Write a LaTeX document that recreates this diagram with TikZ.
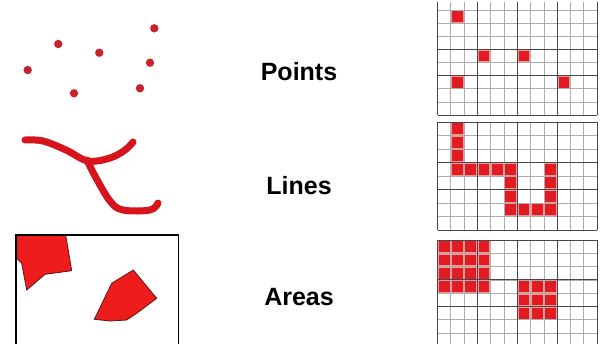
\documentclass[tikz,border=0pt]{standalone}
\usepackage{fontspec}
\setmainfont{Liberation Sans}
\definecolor{dotred}{HTML}{C8232C}
\definecolor{linered}{HTML}{D7141C}
\definecolor{areared}{HTML}{EE1C1C}
\definecolor{arealine}{HTML}{5A1A1A}
\definecolor{cellred}{HTML}{E21B23}
\definecolor{cellpink}{HTML}{F29A9A}
\begin{document}
\begin{tikzpicture}[x=1pt,y=-1pt,
  minor/.style={draw=black!32, line width=0.7pt},
  major/.style={draw=black!72, line width=1pt},
  cell/.style={fill=cellred, draw=cellpink, line width=0.9pt},
  lbl/.style={font=\fontsize{25}{30}\selectfont\bfseries, text=black, inner sep=0pt},
  dot/.style={fill=dotred, draw=none},
  stroke/.style={draw=linered, line width=7pt, line cap=round, line join=round},
  area/.style={fill=areared, draw=arealine, line width=0.8pt}]
\useasboundingbox (0,0) rectangle (602,343);
\fill[white] (0,0) rectangle (602,343);

% ---------- Points ----------
\foreach \px/\py in {27.7/70, 58.3/44, 99.3/52.7, 74/93.3, 154.3/28.3, 150/62.7, 140/88.3}
  \fill[dot] (\px,\py) circle (4.2);

% ---------- Lines ----------
\draw[stroke] plot[smooth, tension=0.6] coordinates {(25,140) (43,141) (66,150) (88,161) (110,158) (125,150) (133,142)};
\draw[stroke] plot[smooth, tension=0.6] coordinates {(87,160) (95,176) (110,201) (123,210) (150,210) (158,203)};

% ---------- Areas ----------
\fill[area] (16.7,235) -- (65.7,235) -- (71.7,270.7) -- (45,274.3) -- (26.7,290) -- (21.7,263.3) -- (16.7,258.3) -- cycle;
\fill[area] (133.3,270) -- (156.7,298.3) -- (136.7,313.3) -- (126.7,320) -- (110,321) -- (94.3,319.3) -- (111.7,283.3) -- cycle;
\draw[line width=1.2pt] (16,344) -- (16,235) -- (178.3,235) -- (178.3,344);

% ---------- Labels ----------
\node[lbl] (points) at (299,72) {Points};
\node[lbl] (lines) at (299,186) {Lines};
\node[lbl] (areas) at (299,297) {Areas};

% ---------- Grid 1 (points) ----------
\foreach \c/\r in {1/0,3/3,6/3,1/5,9/5}
  \filldraw[cell] ({437.5+\c*13.3+0.8},{10+\r*13.125+0.8}) rectangle ++(11.7,11.525);
\foreach \c in {0,...,12} {\pgfmathsetmacro\xx{437.5+\c*13.3}\draw[minor] (\xx,2) -- (\xx,115);}
\foreach \r in {0,...,8} {\pgfmathsetmacro\yy{10+\r*13.125}\draw[minor] (437.5,\yy) -- (597.1,\yy);}
\foreach \c in {0,3,6,9,12} {\pgfmathsetmacro\xx{437.5+\c*13.3}\draw[major] (\xx,2) -- (\xx,115);}
\foreach \r in {3,5,8} {\pgfmathsetmacro\yy{10+\r*13.125}\draw[major] (437.5,\yy) -- (597.1,\yy);}

% ---------- Grid 2 (lines) ----------
\foreach \c/\r in {1/0,1/1,1/2,1/3,2/3,3/3,4/3,5/3,5/4,5/5,5/6,6/6,7/6,8/6,8/5,8/4,8/3}
  \filldraw[cell] ({437.5+\c*13.3+0.8},{122+\r*13.5+0.8}) rectangle ++(11.7,11.9);
\foreach \c in {0,...,12} {\pgfmathsetmacro\xx{437.5+\c*13.3}\draw[minor] (\xx,122) -- (\xx,230);}
\foreach \r in {0,...,8} {\pgfmathsetmacro\yy{122+\r*13.5}\draw[minor] (437.5,\yy) -- (597.1,\yy);}
\foreach \c in {0,3,6,9,12} {\pgfmathsetmacro\xx{437.5+\c*13.3}\draw[major] (\xx,122) -- (\xx,230);}
\foreach \r in {0,3,5,8} {\pgfmathsetmacro\yy{122+\r*13.5}\draw[major] (437.5,\yy) -- (597.1,\yy);}

% ---------- Grid 3 (areas) ----------
\foreach \c in {0,...,3} \foreach \r in {0,...,3}
  \filldraw[cell] ({437.5+\c*13.3+0.8},{240+\r*13.3+0.8}) rectangle ++(11.7,11.7);
\foreach \c in {6,7,8} \foreach \r in {3,4,5}
  \filldraw[cell] ({437.5+\c*13.3+0.8},{240+\r*13.3+0.8}) rectangle ++(11.7,11.7);
\foreach \c in {0,...,12} {\pgfmathsetmacro\xx{437.5+\c*13.3}\draw[minor] (\xx,240) -- (\xx,344);}
\foreach \r in {0,...,7} {\pgfmathsetmacro\yy{240+\r*13.3}\draw[minor] (437.5,\yy) -- (597.1,\yy);}
\foreach \c in {0,3,6,9,12} {\pgfmathsetmacro\xx{437.5+\c*13.3}\draw[major] (\xx,240) -- (\xx,344);}
\foreach \r in {0,3,5} {\pgfmathsetmacro\yy{240+\r*13.3}\draw[major] (437.5,\yy) -- (597.1,\yy);}
\end{tikzpicture}
\end{document}
